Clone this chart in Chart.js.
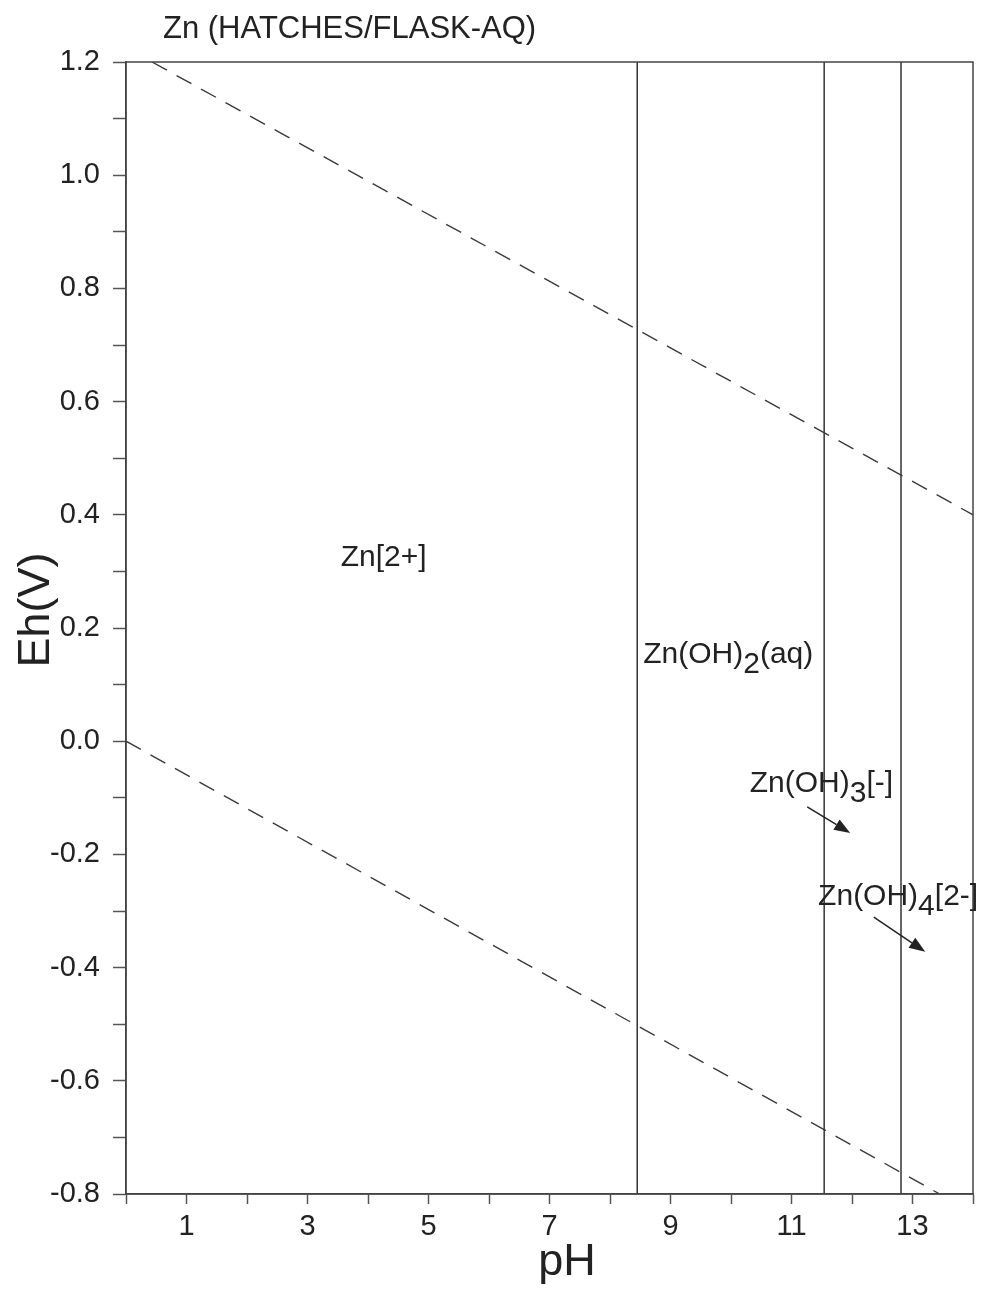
<!DOCTYPE html>
<html>
<head>
<meta charset="utf-8">
<script src="https://cdn.jsdelivr.net/npm/chart.js@4.4.1/dist/chart.umd.min.js"></script>
<style>
  html, body { margin: 0; padding: 0; background: #fff; }
  #wrap { width: 990px; height: 1289px; position: relative; }
</style>
</head>
<body>
<div id="wrap"><canvas id="myChart"></canvas></div>
<script>
// Eh-pH diagram for zinc
const chartTitle = "Zn (HATCHES/FLASK-AQ)";
const xTitle = "pH";
const yTitle = "Eh(V)";

// water stability lines (dashed)
const upperWaterPH = [0.43, 14];
const upperWaterEh = [1.2, 0.4];
const lowerWaterPH = [0, 13.45];
const lowerWaterEh = [0, -0.8];

// predominance boundaries (vertical lines)
const boundaryPH = [8.45, 11.54, 12.81];
const boundaryEh = [-0.8, 1.2];

// species labels, "_n" marks a subscript
const speciesNames = ["Zn[2+]", "Zn(OH)_2(aq)", "Zn(OH)_3[-]", "Zn(OH)_4[2-]"];
const speciesPH = [3.55, 8.55, 10.31, 11.44];
const speciesEh = [0.31, 0.138, -0.09, -0.289];

// arrows pointing into narrow fields
const arrowFromPH = [11.26, 12.36];
const arrowFromEh = [-0.116, -0.311];
const arrowToPH = [11.97, 13.21];
const arrowToEh = [-0.162, -0.372];

const FONT = "'Liberation Sans', Arial, sans-serif";
const ink = "#222";

function toPoints(xs, ys) {
  return xs.map((v, i) => ({ x: v, y: ys[i] }));
}

const datasets = [
  {
    data: toPoints(upperWaterPH, upperWaterEh),
    borderColor: "#3a3a3a",
    borderWidth: 1.4,
    borderDash: [17, 11],
  },
  {
    data: toPoints(lowerWaterPH, lowerWaterEh),
    borderColor: "#3a3a3a",
    borderWidth: 1.4,
    borderDash: [17, 11],
  },
];
boundaryPH.forEach((ph) => {
  datasets.push({
    data: toPoints([ph, ph], boundaryEh),
    borderColor: "#333",
    borderWidth: 1.5,
  });
});

// draws a label with subscripts
function drawLabel(ctx, text, px, py, size) {
  const parts = text.split(/_(\d)/);
  let cx = px;
  parts.forEach((part, i) => {
    const dy = i % 2 === 1 ? size * 0.33 : 0;
    ctx.fillText(part, cx, py + dy);
    cx += ctx.measureText(part).width;
  });
}

function drawArrow(ctx, x1, y1, x2, y2) {
  const ang = Math.atan2(y2 - y1, x2 - x1);
  const head = 16;
  const bx = x2 - head * Math.cos(ang);
  const by = y2 - head * Math.sin(ang);
  ctx.beginPath();
  ctx.moveTo(x1, y1);
  ctx.lineTo(bx, by);
  ctx.stroke();
  ctx.beginPath();
  ctx.moveTo(x2, y2);
  ctx.lineTo(bx + 6 * Math.sin(ang), by - 6 * Math.cos(ang));
  ctx.lineTo(bx - 6 * Math.sin(ang), by + 6 * Math.cos(ang));
  ctx.closePath();
  ctx.fill();
}

const annotations = {
  id: "annotations",
  afterDatasetsDraw(chart) {
    const { ctx, chartArea, scales } = chart;
    const x = scales.x;
    const y = scales.y;
    ctx.save();

    // frame around the plot
    ctx.strokeStyle = "#444";
    ctx.lineWidth = 1.5;
    ctx.strokeRect(chartArea.left, chartArea.top, chartArea.width, chartArea.height);

    // title
    ctx.fillStyle = ink;
    ctx.textAlign = "left";
    ctx.textBaseline = "alphabetic";
    ctx.font = "31px " + FONT;
    ctx.fillText(chartTitle, chartArea.left + 37, 38);

    // axis titles
    ctx.font = "45px " + FONT;
    ctx.textAlign = "center";
    ctx.fillText(xTitle, chartArea.left + 441, chart.height - 14);
    ctx.save();
    ctx.translate(49, chartArea.top + 548);
    ctx.rotate(-Math.PI / 2);
    ctx.fillText(yTitle, 0, 0);
    ctx.restore();

    // species names
    ctx.textAlign = "left";
    ctx.font = "30px " + FONT;
    speciesNames.forEach((name, i) => {
      drawLabel(ctx, name, x.getPixelForValue(speciesPH[i]), y.getPixelForValue(speciesEh[i]), 30);
    });

    // arrows
    ctx.strokeStyle = "#222";
    ctx.fillStyle = "#222";
    ctx.lineWidth = 1.5;
    arrowFromPH.forEach((ph, i) => {
      drawArrow(
        ctx,
        x.getPixelForValue(ph),
        y.getPixelForValue(arrowFromEh[i]),
        x.getPixelForValue(arrowToPH[i]),
        y.getPixelForValue(arrowToEh[i])
      );
    });
    ctx.restore();
  },
};

const ctx = document.getElementById("myChart");
const myChart = new Chart(ctx, {
  type: "scatter",
  data: { datasets: datasets },
  options: {
    responsive: true,
    maintainAspectRatio: false,
    animation: false,
    showLine: true,
    elements: {
      point: { radius: 0, hoverRadius: 0 },
      line: { tension: 0 },
    },
    layout: { padding: { top: 62, right: 17, left: 0, bottom: 0 } },
    plugins: {
      legend: { display: false },
      tooltip: { enabled: false },
      title: { display: false },
    },
    scales: {
      x: {
        type: "linear",
        min: 0,
        max: 14,
        afterFit(scale) {
          scale.height = 95;
        },
        border: { display: true, color: "#444", width: 1.5 },
        grid: {
          drawOnChartArea: false,
          drawTicks: true,
          tickLength: 10,
          tickColor: "#555",
          tickWidth: 1.5,
        },
        ticks: {
          stepSize: 1,
          autoSkip: false,
          maxRotation: 0,
          padding: 6,
          color: ink,
          font: { family: FONT, size: 29 },
          callback: (v) => (Number.isInteger(v) && v % 2 === 1 ? String(v) : ""),
        },
      },
      y: {
        type: "linear",
        min: -0.8,
        max: 1.2,
        afterFit(scale) {
          scale.width = 126;
        },
        border: { display: true, color: "#444", width: 1.5 },
        grid: {
          drawOnChartArea: false,
          drawTicks: true,
          tickLength: 13,
          tickColor: "#555",
          tickWidth: 1.5,
        },
        ticks: {
          stepSize: 0.1,
          maxTicksLimit: 40,
          autoSkip: false,
          padding: 13,
          color: ink,
          font: { family: FONT, size: 29 },
          callback: (v) => {
            const k = Math.round(v * 10);
            return k % 2 === 0 ? (k / 10).toFixed(1) : "";
          },
        },
      },
    },
  },
  plugins: [annotations],
});
</script>
</body>
</html>
